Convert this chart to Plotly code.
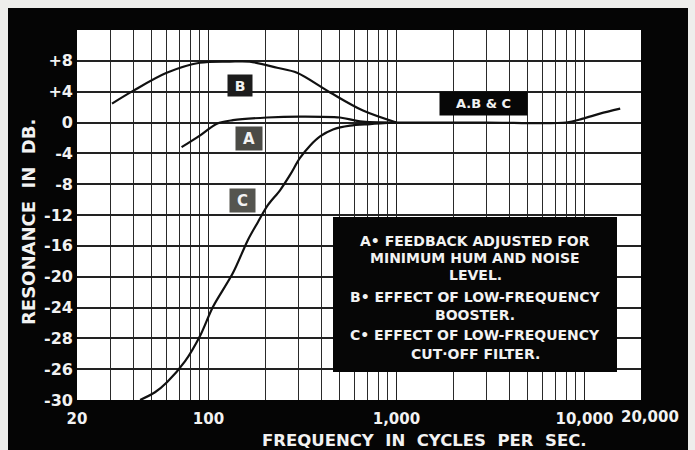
import numpy as np
import plotly.graph_objects as go

# Curve A: feedback adjusted for minimum hum and noise level
freq_a = [72, 90, 111, 135, 205, 307, 500, 640, 1000]
db_a = [-3.2, -1.7, -0.15, 0.3, 0.65, 0.77, 0.65, 0.15, 0]

# Curve B: low-frequency booster
freq_b = [30.7, 39.7, 60, 90, 130, 166, 232, 296, 444, 664, 1000]
db_b = [2.45, 4.1, 6.45, 7.75, 7.9, 7.9, 7.1, 6.45, 3.9, 1.55, 0]

# Curve C: low-frequency cut-off filter
freq_c = [43.3, 52, 60.2, 75, 90.2, 105.8, 135.2, 162.5, 183.6, 207.5,
          240.3, 271.8, 307, 347, 392.6, 460, 566.6, 724, 1000]
db_c = [-36, -35.0, -33.7, -31.0, -27.7, -23.9, -19.5, -15.2, -12.9, -10.7,
        -8.8, -6.8, -4.6, -3.0, -1.8, -0.9, -0.4, -0.2, 0]

# Shared portion of all three responses
freq_abc = [1000, 3000, 8000, 9800, 12100, 15500]
db_abc = [0, 0, 0, 0.5, 1.15, 1.8]

# Axis ticks
x_tickvals = [20, 100, 1000, 10000]
x_ticktext = ["20", "100", "1,000", "10,000"]
x_end_label = "20,000"
y_tickvals = [8, 4, 0, -4, -8, -12, -16, -20, -24, -28, -32, -36]
y_ticktext = ["+8", "+4", "0", "-4", "-8", "-12", "-16", "-20", "-24",
              "-28", "-26", "-30"]

legend_lines = [
    "A• FEEDBACK ADJUSTED FOR",
    "MINIMUM HUM AND NOISE",
    "LEVEL.",
    "B• EFFECT OF LOW-FREQUENCY",
    "BOOSTER.",
    "C• EFFECT OF LOW-FREQUENCY",
    "CUT·OFF FILTER.",
]

W, H = 695, 450
ML, MR, MT, MB = 77, 54, 30, 50
PW, PH = W - ML - MR, H - MT - MB


def px(x):
    return (x - ML) / PW


def py(y):
    return (H - MB - y) / PH


FONT = "DejaVu Sans"
WHITE = "#f2f2f2"
LINE = dict(color="#111111", width=2.2, shape="spline", smoothing=0.9)

fig = go.Figure()
for name, f, d in [("A", freq_a, db_a), ("B", freq_b, db_b),
                   ("C", freq_c, db_c), ("A, B & C", freq_abc, db_abc)]:
    fig.add_trace(go.Scatter(x=f, y=d, mode="lines", name=name,
                             line=LINE, showlegend=False, hoverinfo="skip"))

minor_vals = [m * 10 ** e for e in (1, 2, 3) for m in range(2, 10)
              if 20 < m * 10 ** e < 20000]

fig.update_layout(
    width=W, height=H,
    margin=dict(l=ML, r=MR, t=MT, b=MB),
    paper_bgcolor="#050505",
    plot_bgcolor="#ffffff",
    font=dict(family=FONT, color=WHITE),
    xaxis=dict(
        type="log",
        range=[np.log10(20), np.log10(20000)],
        tickvals=x_tickvals, ticktext=x_ticktext,
        tickfont=dict(family=FONT, size=15, color=WHITE, weight="bold"),
        ticks="", showline=False, zeroline=False,
        showgrid=True, gridcolor="#222222", gridwidth=1.4,
        minor=dict(tickvals=minor_vals, showgrid=True,
                   gridcolor="#2a2a2a", gridwidth=1.2, ticks=""),
        ticklabelstandoff=8,
    ),
    yaxis=dict(
        range=[-36, 12],
        tickvals=y_tickvals, ticktext=y_ticktext,
        tickfont=dict(family=FONT, size=16, color=WHITE, weight="bold"),
        ticks="", showline=False, zeroline=False,
        showgrid=True, gridcolor="#222222", gridwidth=1.8,
        ticklabelstandoff=3,
    ),
)

shapes = [
    # light border strips around the black card
    dict(type="rect", xref="paper", yref="paper", layer="below",
         x0=px(0), x1=px(8), y0=py(H), y1=py(0),
         fillcolor="#eeeeec", line=dict(width=0)),
    dict(type="rect", xref="paper", yref="paper", layer="below",
         x0=px(0), x1=px(W), y0=py(8), y1=py(0),
         fillcolor="#eeeeec", line=dict(width=0)),
    dict(type="rect", xref="paper", yref="paper", layer="below",
         x0=px(688), x1=px(W), y0=py(H), y1=py(0),
         fillcolor="#eeeeec", line=dict(width=0)),
    # key panel
    dict(type="rect", xref="paper", yref="paper", layer="above",
         x0=px(333), x1=px(617), y0=py(372), y1=py(217),
         fillcolor="#060606", line=dict(width=0)),
]
fig.update_layout(shapes=shapes)

ann = []
# curve tags
for text, cx, cy, w, h, bg, size in [
    ("B", 240, 85, 24, 21, "#1c1c1c", 14),
    ("A", 249, 138, 26, 23, "#4b4b46", 15),
    ("C", 242, 200, 25, 23, "#55554f", 15),
    ("A.B & C", 483, 104, 87, 23, "#070707", 13),
]:
    ann.append(dict(text=text, xref="paper", yref="paper", x=px(cx), y=py(cy),
                    xanchor="center", yanchor="middle", showarrow=False,
                    width=w, height=h, bgcolor=bg, borderpad=0,
                    font=dict(family=FONT, size=size, color=WHITE,
                              weight="bold")))

# key text
for line, ly in zip(legend_lines, [241, 258, 275, 297, 315, 335, 354]):
    ann.append(dict(text=line, xref="paper", yref="paper", x=px(475),
                    y=py(ly), xanchor="center", yanchor="middle",
                    showarrow=False,
                    font=dict(family=FONT, size=14, color=WHITE,
                              weight="bold")))

# last frequency label at the right edge
ann.append(dict(text=x_end_label, xref="x", yref="paper",
                x=np.log10(20000), y=py(417), xanchor="center",
                yanchor="middle", xshift=9, showarrow=False,
                font=dict(family=FONT, size=15, color=WHITE, weight="bold")))

# axis titles
ann.append(dict(text="FREQUENCY  IN  CYCLES  PER  SEC.", xref="paper",
                yref="paper", x=px(424), y=py(440), xanchor="center",
                yanchor="middle", showarrow=False,
                font=dict(family=FONT, size=16.5, color=WHITE, weight="bold")))
ann.append(dict(text="RESONANCE  IN  DB.", xref="paper", yref="paper",
                x=px(28), y=py(222), xanchor="center", yanchor="middle",
                textangle=-90, showarrow=False,
                font=dict(family=FONT, size=18, color=WHITE, weight="bold")))
fig.update_layout(annotations=ann)

fig.write_html("out.html")
